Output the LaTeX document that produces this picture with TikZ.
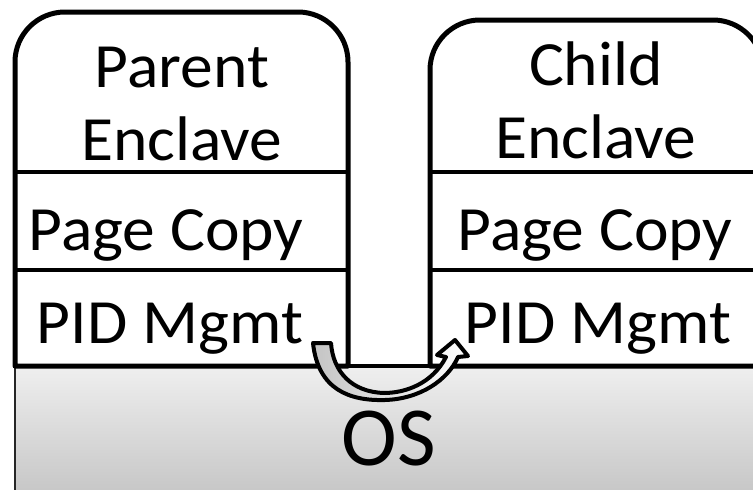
\documentclass[tikz,border=0pt]{standalone}
\usepackage{fontspec}
\setmainfont{Carlito}
\definecolor{osTop}{HTML}{EFEFEF}
\definecolor{osBottom}{HTML}{C6C6C6}
\definecolor{arrowGrey}{HTML}{C4C4C4}
% labels are set slightly wide
\newcommand{\wide}[1]{\scalebox{1.04}[1]{#1}}
\begin{document}
\begin{tikzpicture}[x=1pt,y=-1pt,
  lbl/.style={font=\fontsize{63}{73}\selectfont, inner sep=0pt, align=center, anchor=base},
  oslbl/.style={font=\fontsize{84}{90}\selectfont, inner sep=0pt, anchor=base},
  enclave/.style={draw, line width=5pt, fill=white, line join=round},
  divider/.style={line width=4.5pt},
  blockarrow/.style={draw, line width=4pt, line join=round, left color=arrowGrey, right color=white},
]
\useasboundingbox (0,0) rectangle (753,490);
\clip (0,0) rectangle (753,490);

% OS layer
\path[top color=osTop, bottom color=osBottom] (15,366) rectangle (760,495);
\draw[line width=2.5pt, draw=black!85] (15,366) -- (15,495);

% parent enclave
\draw[enclave] (15,366) -- (15,62) arc[start angle=180, end angle=270, radius=50]
  -- (298,12) arc[start angle=270, end angle=360, radius=50] -- (348,366) -- cycle;
\draw[divider] (15,172) -- (348,172);
\draw[divider] (15,270) -- (348,270);

% child enclave
\draw[enclave] (430,366) -- (430,70) arc[start angle=180, end angle=270, radius=50]
  -- (713,20) arc[start angle=270, end angle=360, radius=50] -- (763,366) -- cycle;
\draw[divider] (430,172) -- (763,172);
\draw[divider] (430,270) -- (763,270);

% top edge of the OS layer
\draw[divider] (13,366) -- (760,366);

% labels (base anchor = baseline of the last line)
\node[lbl] (parentTitle) at (182,160) {\wide{Parent}\\\wide{Enclave}};
\node[lbl] (childTitle) at (596,158) {\wide{Child}\\\wide{Enclave}};
\node[lbl] (parentCopy) at (166,250) {\wide{Page Copy}};
\node[lbl] (childCopy) at (595,250) {\wide{Page Copy}};
\node[lbl] (parentPid) at (170,343) {\wide{PID Mgmt}};
\node[lbl] (childPid) at (598,343) {\wide{PID Mgmt}};
\node[oslbl] (os) at (389,465) {OS};

% curved block arrow from the parent's PID manager to the child's
\path[blockarrow] (313,343)
  .. controls (318,390) and (350,401) .. (385,400)
  .. controls (420,399) and (448,380) .. (458,357)
  -- (468,356) -- (455,340) -- (437,355) -- (446,357)
  .. controls (432,384) and (405,393) .. (384,393)
  .. controls (352,392) and (333,372) .. (331,343) -- cycle;
\end{tikzpicture}
\end{document}
